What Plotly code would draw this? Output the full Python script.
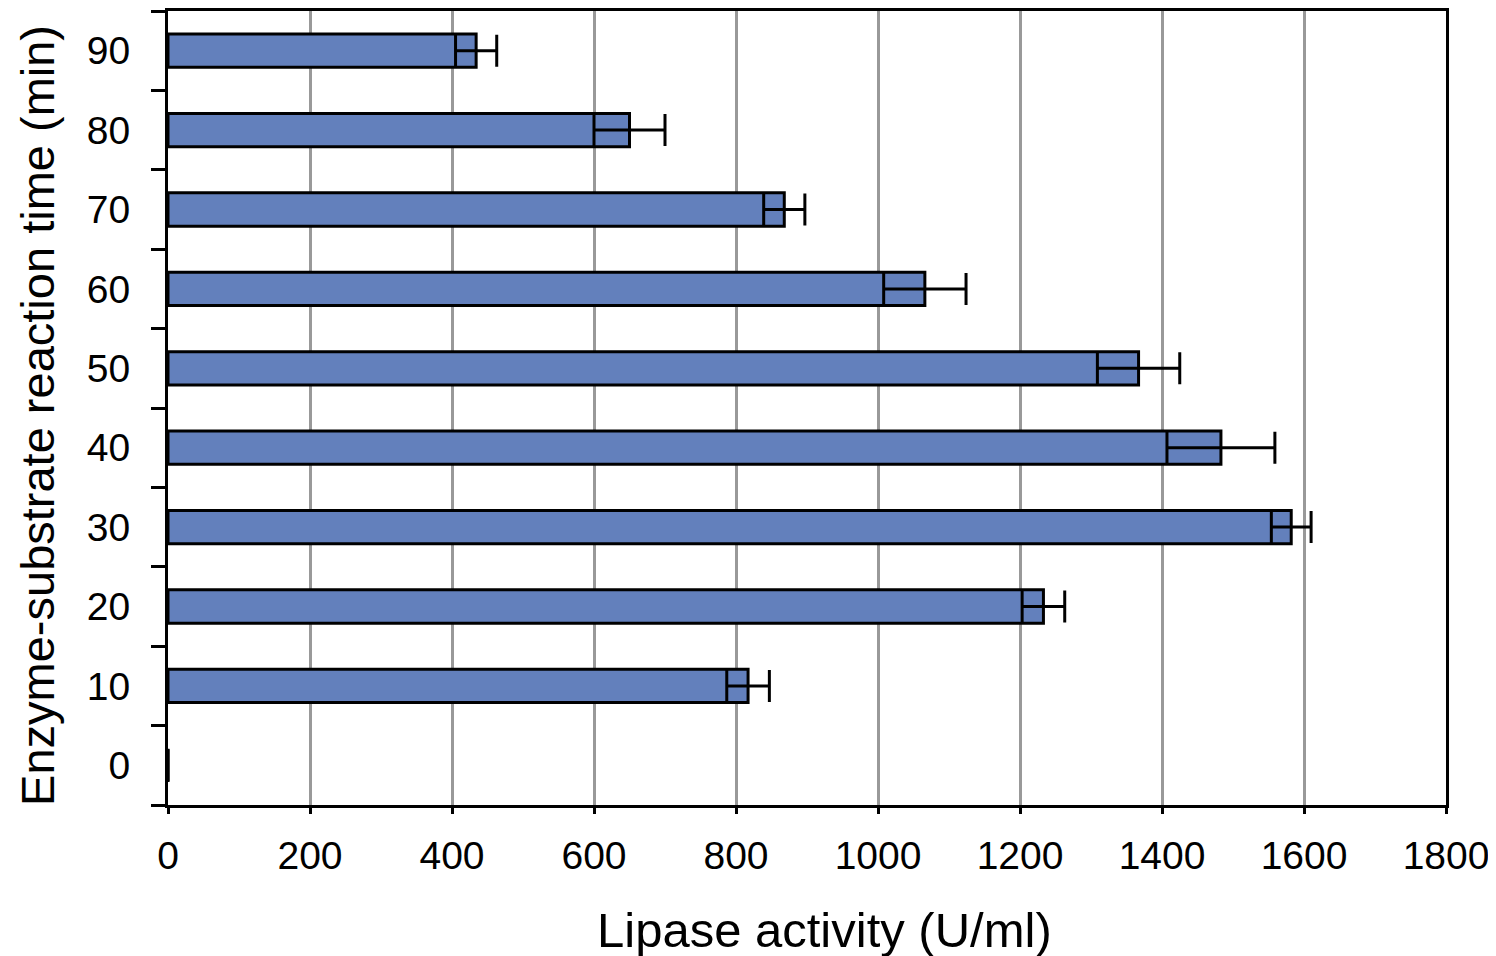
import plotly.graph_objects as go

times = ["0", "10", "20", "30", "40", "50", "60", "70", "80", "90"]
activity = [0, 817, 1233, 1582, 1483, 1367, 1066, 868, 650, 434]
errors = [0, 30, 30, 28, 76, 58, 58, 29, 50, 29]
x_ticks = [0, 200, 400, 600, 800, 1000, 1200, 1400, 1600, 1800]
x_title = "Lipase activity (U/ml)"
y_title = "Enzyme-substrate reaction time (min)"

FONT = "Liberation Sans, Arial, Helvetica, sans-serif"

fig = go.Figure()
fig.add_trace(go.Bar(
    y=times, x=activity, orientation="h",
    marker=dict(color="#6380BC", line=dict(color="black", width=3)),
    width=0.42,
    error_x=dict(type="data", array=errors, symmetric=True,
                 color="black", thickness=3, width=16),
))

fig.update_layout(
    width=1488, height=948,
    margin=dict(l=160, r=50, t=0, b=151),
    paper_bgcolor="white", plot_bgcolor="white",
    showlegend=False,
    font=dict(family=FONT, color="black", size=39),
)
fig.update_xaxes(
    range=[0, 1800], tickvals=x_ticks, ticktext=[str(v) for v in x_ticks],
    showgrid=True, gridcolor="#999999", gridwidth=3,
    showline=True, linecolor="black", linewidth=3, mirror=True,
    ticks="outside", ticklen=6, tickwidth=3, tickcolor="black",
    tickfont=dict(size=39), ticklabelstandoff=8, zeroline=False,
)
fig.update_yaxes(
    type="category", categoryorder="array", categoryarray=times,
    showgrid=False,
    showline=True, linecolor="black", linewidth=3, mirror=True,
    ticks="outside", tickson="boundaries", ticklen=14, tickwidth=3, tickcolor="black",
    tickfont=dict(size=39), ticklabelstandoff=27,
)
fig.add_annotation(
    text=x_title, xref="paper", yref="paper", x=0.514, y=0,
    xanchor="center", yanchor="middle", yshift=-125, showarrow=False,
    font=dict(size=49, family=FONT, color="black"),
)
fig.add_annotation(
    text=y_title, xref="paper", yref="paper", x=0, y=0.49,
    xanchor="center", yanchor="middle", xshift=-130, textangle=-90, showarrow=False,
    font=dict(size=47, family=FONT, color="black"),
)

fig.write_html("out.html")
